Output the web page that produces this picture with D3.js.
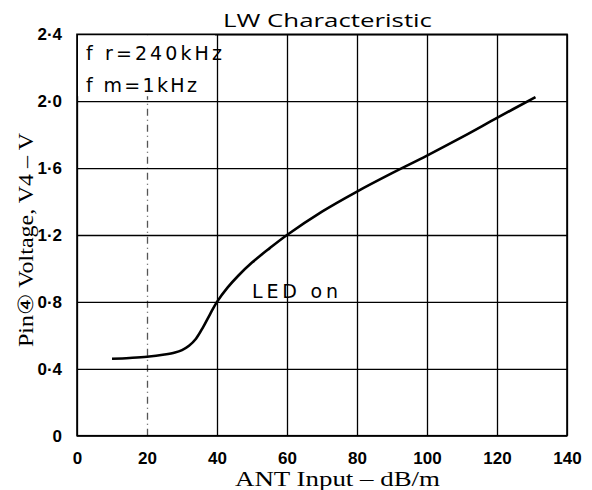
<!DOCTYPE html>
<html>
<head>
<meta charset="utf-8">
<script src="https://cdn.jsdelivr.net/npm/d3@7"></script>
<style>
  body { margin: 0; background: #fff; }
  .tick text { font-family: "Liberation Sans", Arial, sans-serif; font-weight: bold; font-size: 17px; fill: #000; }
  .note, .led { font-family: "DejaVu Sans", sans-serif; font-size: 19px; }
</style>
</head>
<body>
<script>
// curve values
var antInput = [10, 15, 20, 25, 28, 30, 32, 34, 36, 38, 40, 43, 46, 50, 55, 60, 70, 80, 90, 100, 110, 120, 131];
var pinVoltage = [0.46, 0.465, 0.472, 0.485, 0.497, 0.512, 0.538, 0.58, 0.648, 0.726, 0.80, 0.885, 0.955, 1.035, 1.12, 1.20, 1.34, 1.46, 1.57, 1.675, 1.785, 1.90, 2.025];
var xTicks = [0, 20, 40, 60, 80, 100, 120, 140];
var yTicks = [0, 0.4, 0.8, 1.2, 1.6, 2.0, 2.4];
var notes = ["f r=240kHz", "f m=1kHz"];

var W = 592, H = 490;
var margin = { top: 34.3, right: 25, bottom: 54.3, left: 77 },
    width = W - margin.left - margin.right,
    height = H - margin.top - margin.bottom;

var x = d3.scaleLinear().domain([0, 140]).range([0, width]);
var y = d3.scaleLinear().domain([0, 2.4]).range([height, 0]);

var svg = d3.select("body").append("svg")
    .attr("width", W).attr("height", H);

var g = svg.append("g")
    .attr("transform", "translate(" + margin.left + "," + margin.top + ")");

// grid
g.append("g")
    .attr("class", "xgrid")
    .attr("transform", "translate(0," + height + ")")
    .call(d3.axisBottom(x).tickValues(xTicks).tickSize(-height).tickFormat(""))
    .call(function (s) {
        s.select(".domain").remove();
        s.selectAll("line").attr("stroke", "#000").attr("stroke-width", 1.3);
        s.selectAll(".tick").filter(function (d) { return d === 20; })
            .select("line").attr("stroke", "#555").attr("stroke-dasharray", "7,4,1,4");
    });

g.append("g")
    .attr("class", "ygrid")
    .call(d3.axisLeft(y).tickValues(yTicks).tickSize(-width).tickFormat(""))
    .call(function (s) {
        s.select(".domain").remove();
        s.selectAll("line").attr("stroke", "#000").attr("stroke-width", 1.3);
    });

// white patch behind the conditions text
g.append("rect")
    .attr("x", 1).attr("y", 1)
    .attr("width", x(40) - 3).attr("height", y(2.0) - 6)
    .attr("fill", "#fff");

var noteW = [136, 111];
g.selectAll("text.note").data(notes).enter().append("text")
    .attr("class", "note")
    .attr("x", 9)
    .attr("y", function (d, i) { return 25.5 + i * 32; })
    .attr("textLength", function (d, i) { return noteW[i]; })
    .attr("lengthAdjust", "spacing")
    .text(function (d) { return d; });

// frame
g.append("rect")
    .attr("width", width).attr("height", height)
    .attr("fill", "none").attr("stroke", "#000").attr("stroke-width", 1.6);

// axes (labels only)
var fmt = function (d) { return d === 0 ? "0" : d3.format(".1f")(d).replace(".", "·"); };

g.append("g")
    .attr("transform", "translate(0," + height + ")")
    .call(d3.axisBottom(x).tickValues(xTicks).tickSize(0).tickPadding(16))
    .call(function (s) { s.select(".domain").remove(); });

g.append("g")
    .call(d3.axisLeft(y).tickValues(yTicks).tickSize(0).tickPadding(15).tickFormat(fmt))
    .call(function (s) { s.select(".domain").remove(); });

// curve
var line = d3.line()
    .x(function (d, i) { return x(antInput[i]); })
    .y(function (d) { return y(d); })
    .curve(d3.curveCatmullRom.alpha(0.5));

g.append("path")
    .datum(pinVoltage)
    .attr("fill", "none")
    .attr("stroke", "#000")
    .attr("stroke-width", 2.6)
    .attr("d", line);

g.append("text")
    .attr("class", "led")
    .attr("x", 252 - margin.left).attr("y", 298.3 - margin.top)
    .attr("textLength", 86)
    .attr("lengthAdjust", "spacing")
    .text("LED on");

// titles
svg.append("text")
    .attr("x", 223).attr("y", 26.5)
    .attr("textLength", 209)
    .attr("lengthAdjust", "spacingAndGlyphs")
    .style("font-family", "Open Sans, sans-serif")
    .style("font-size", "19px")
    .text("LW Characteristic");

svg.append("text")
    .attr("x", 235).attr("y", 486)
    .attr("textLength", 205)
    .attr("lengthAdjust", "spacingAndGlyphs")
    .style("font-family", "Liberation Serif, serif")
    .style("font-size", "20px")
    .text("ANT Input – dB/m");

svg.append("text")
    .attr("transform", "translate(33,347) rotate(-90)")
    .attr("textLength", 214)
    .attr("lengthAdjust", "spacingAndGlyphs")
    .style("font-family", "Liberation Serif, serif")
    .style("font-size", "21px")
    .text("Pin④ Voltage, V4 – V");
</script>
</body>
</html>
